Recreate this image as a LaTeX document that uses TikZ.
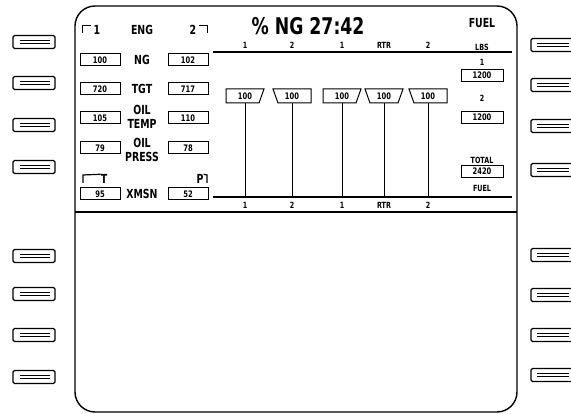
\documentclass[tikz,border=0pt]{standalone}
\usepackage{fontspec}
\setmainfont{DejaVu Sans}[FakeStretch=0.75]
\tikzset{
  screen/.style={line width=1.4pt},
  rule/.style={line width=1.2pt},
  readout/.style={draw, line width=1pt, minimum width=40pt, minimum height=12pt, inner sep=0pt, font=\fontsize{9}{9}\selectfont\bfseries},
  lbl/.style={font=\fontsize{12.5}{14}\selectfont\bfseries, align=center, inner sep=0pt},
  tiny/.style={font=\fontsize{8.5}{8.5}\selectfont\bfseries, inner sep=0pt},
  key/.style={draw, line width=1.1pt, rounded corners=1.5pt, minimum width=42pt, minimum height=13pt, inner sep=0pt},
  keybar/.style={line width=0.8pt},
}
% pointer box on a bar: name, x, left slant, right slant
\newcommand\ngpointer[4]{%
  \node[font=\fontsize{9}{9}\selectfont\bfseries] (#1) at (#2,96) {100};
  \draw[line width=1pt] ({#2-19},89) -- ({#2+19},89) -- ({#2+19-#4},103) -- ({#2-19+#3},103) -- cycle;
}
\begin{document}
\begin{tikzpicture}[x=1pt,y=-1pt]
\useasboundingbox (0,0) rectangle (571,414);
% screen
\draw[screen, rounded corners=20pt] (75,6) rectangle (517,412);
\draw[rule] (75,212) -- (517,212);
\draw[rule] (213,52) -- (512,52);
\draw[rule] (213,197) -- (512,197);
% bezel keys
\foreach \y [count=\i] in {42,83,125,167,256,294,335,377}{
  \node[key] (lk\i) at (34,\y) {};
  \draw[keybar] (20,\y-1.3) -- (50,\y-1.3) (20,\y+1.3) -- (50,\y+1.3);
}
\foreach \y [count=\i] in {45,85,126,170,255,295,335,375}{
  \node[key] (rk\i) at (552,\y) {};
  \draw[keybar] (537,\y-1.3) -- (569,\y-1.3) (537,\y+1.3) -- (569,\y+1.3);
}
% engine panel
\node[lbl] (eng1) at (97,30) {1};
\draw[rule] ([xshift=-3pt]eng1.north west) -- ++(-8,0) -- ++(0,8);
\node[lbl] (eng) at (142,30) {ENG};
\node[lbl] (eng2) at (193,30) {2};
\draw[rule] ([xshift=3pt]eng2.north east) -- ++(8,0) -- ++(0,8);
\node[readout] (ng1) at (100,60) {100};
\node[lbl] (ng) at (142,60) {NG};
\node[readout] (ng2) at (188,60) {102};
\node[readout] (tgt1) at (100,89) {720};
\node[lbl] (tgt) at (142,89) {TGT};
\node[readout] (tgt2) at (188,89) {717};
\node[readout] (temp1) at (100,118) {105};
\node[lbl] (temp) at (142,117) {OIL\\TEMP};
\node[readout] (temp2) at (188,118) {110};
\node[readout] (press1) at (100,148) {79};
\node[lbl] (press) at (142,150) {OIL\\PRESS};
\node[readout] (press2) at (188,148) {78};
\node[readout] (xmsn1) at (100,194) {95};
\node[lbl] (xmsn) at (142,194) {XMSN};
\node[readout] (xmsn2) at (188,194) {52};
\node[lbl] (xt) at (104,179) {T};
\draw[rule] (xt.north west) -- (83,175) -- (83,183);
\node[lbl] (xp) at (200,179) {P};
\draw[rule] (xp.north east) -- (207,175) -- (207,183);
% NG bars
\node[font=\fontsize{23}{23}\selectfont\bfseries] (title) at (308,26) {\%~NG~27:42};
\ngpointer{p1}{245}{0}{5}
\ngpointer{p2}{292}{5}{0}
\ngpointer{p3}{342}{0}{5}
\ngpointer{p4}{384}{5}{5}
\ngpointer{p5}{428}{5}{0}
\foreach \n/\x/\t in {1/245/1,2/292/2,3/342/1,4/384/RTR,5/428/2}{
  \node[tiny] (top\n) at (\x,45) {\t};
  \node[tiny] (bot\n) at (\x,205) {\t};
  \coordinate (base\n) at (\x,197);
  \draw[line width=1pt] (\x,103) -- (base\n);
}
% fuel panel
\node[lbl] (fuel) at (482,23) {FUEL};
\node[tiny] (lbs) at (482,47) {LBS};
\node[tiny] (tank1) at (482,62) {1};
\node[readout, minimum width=42pt] (fuel1) at (482,75.5) {1200};
\node[tiny] (tank2) at (482,98) {2};
\node[readout, minimum width=42pt] (fuel2) at (482,117.5) {1200};
\node[tiny] (total) at (482,160) {TOTAL};
\node[readout, minimum width=42pt] (fueltot) at (482,171.5) {2420};
\node[tiny] (totfuel) at (482,188) {FUEL};
\end{tikzpicture}
\end{document}
